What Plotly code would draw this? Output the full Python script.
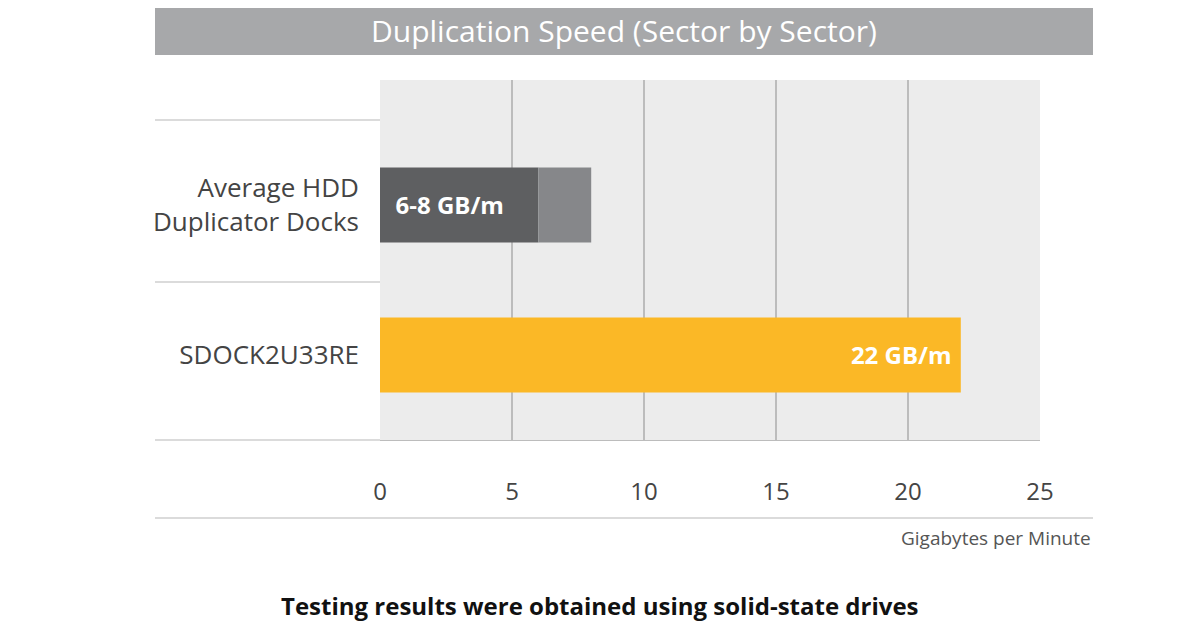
import plotly.graph_objects as go

# data
categories = ["SDOCK2U33RE", "Average HDD<br>Duplicator Docks"]
cat_pos = [0, 1]
hdd_low = 6
hdd_high = 8
ssd_speed = 22
x_ticks = [0, 5, 10, 15, 20, 25]

fig = go.Figure()

# HDD docks: 6 GB/m solid part + up to 8 GB/m lighter part
fig.add_trace(go.Bar(
    x=[hdd_low], y=[cat_pos[1]], orientation="h", width=0.5,
    marker=dict(color="#5e5f61", line=dict(width=0)),
    text=["<b>  6-8 GB/m</b>"], textposition="inside", insidetextanchor="start",
    textfont=dict(color="white", size=24, family="Open Sans"),
))
fig.add_trace(go.Bar(
    x=[hdd_high - hdd_low], y=[cat_pos[1]], base=[hdd_low], orientation="h", width=0.5,
    marker=dict(color="#86878a", line=dict(width=0)),
))
# SDOCK2U33RE
fig.add_trace(go.Bar(
    x=[ssd_speed], y=[cat_pos[0]], orientation="h", width=0.5,
    marker=dict(color="#fbb826", line=dict(width=0)),
    text=["<b>22 GB/m </b>"], textposition="inside", insidetextanchor="end",
    textfont=dict(color="white", size=24, family="Open Sans"),
))

fig.update_layout(
    width=1200, height=630,
    margin=dict(l=372, r=168, t=72, b=198),
    paper_bgcolor="white",
    plot_bgcolor="#ececec",
    showlegend=False,
    barmode="overlay",
    font=dict(family="Open Sans", color="#444"),
)

fig.update_xaxes(
    range=[0, 25], tickvals=x_ticks,
    showgrid=True, gridcolor="#bcbcbc", gridwidth=1.5,
    zeroline=False, showline=True, linecolor="#bcbcbc",
    ticks="", ticklabelstandoff=30,
    tickfont=dict(size=24, color="#444"),
)
fig.update_yaxes(
    range=[-0.567, 1.833], tickvals=cat_pos, ticktext=categories,
    showgrid=False, zeroline=False, ticks="", ticklabelstandoff=20,
    tickfont=dict(size=26, color="#444"),
)

# title band
fig.add_shape(type="rect", xref="paper", yref="paper",
              x0=-225/660, x1=713/660, y0=1 + 25/360, y1=1 + 75/360,
              fillcolor="#a7a8aa", line=dict(width=0), layer="below")
fig.add_annotation(text="Duplication Speed (Sector by Sector)", xref="paper", yref="paper",
                   x=(624 - 380) / 660, y=1 + 50 / 360, yanchor="middle", showarrow=False,
                   font=dict(size=30, color="white"))

# left-side guide lines
for yp in [120, 282, 440]:
    fig.add_shape(type="line", xref="paper", yref="paper",
                  x0=-225 / 660, x1=0, y0=(440 - yp) / 360, y1=(440 - yp) / 360,
                  line=dict(color="#cfcfcf", width=1.5))
# line under ticks
fig.add_shape(type="line", xref="paper", yref="paper",
              x0=-225 / 660, x1=713 / 660, y0=-78 / 360, y1=-78 / 360,
              line=dict(color="#cfcfcf", width=1.5))

fig.add_annotation(text="Gigabytes per Minute", xref="paper", yref="paper",
                   x=713 / 660, y=-98 / 360, xanchor="right", yanchor="middle",
                   showarrow=False, font=dict(size=19, color="#555"))
fig.add_annotation(text="<b>Testing results were obtained using solid-state drives</b>",
                   xref="paper", yref="paper", x=(600 - 380) / 660, y=-165 / 360,
                   yanchor="middle", showarrow=False, font=dict(size=24, color="#111"))

fig.write_html("out.html")
